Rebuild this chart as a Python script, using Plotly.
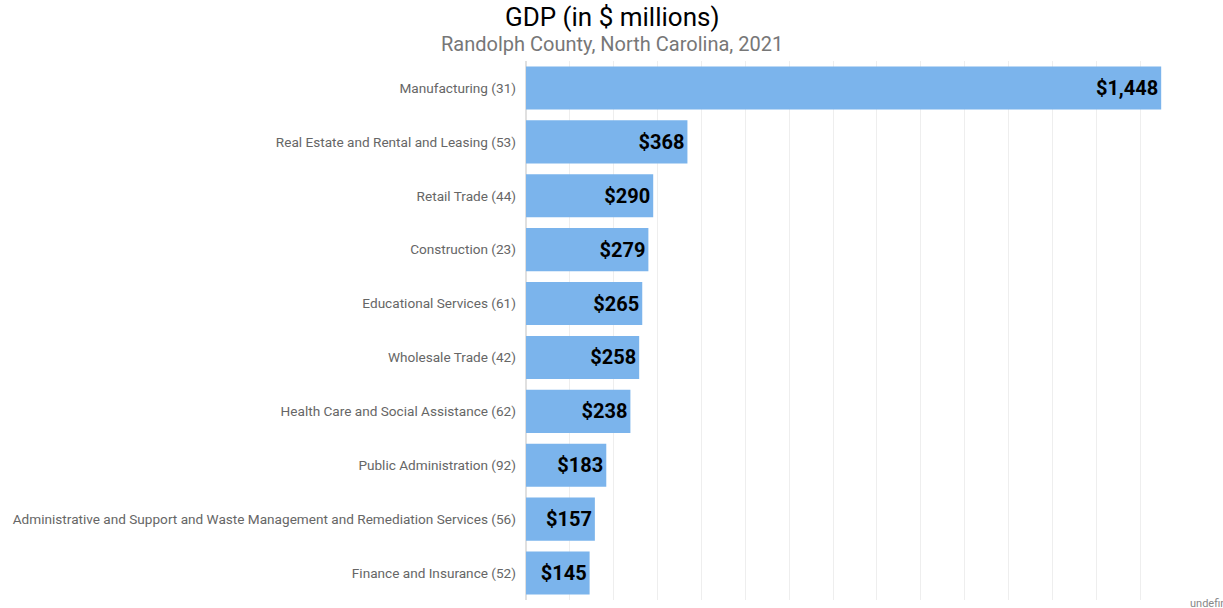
import plotly.graph_objects as go

categories = [
    "Manufacturing (31)",
    "Real Estate and Rental and Leasing (53)",
    "Retail Trade (44)",
    "Construction (23)",
    "Educational Services (61)",
    "Wholesale Trade (42)",
    "Health Care and Social Assistance (62)",
    "Public Administration (92)",
    "Administrative and Support and Waste Management and Remediation Services (56)",
    "Finance and Insurance (52)",
]
values = [1448, 368, 290, 279, 265, 258, 238, 183, 157, 145]
labels = ["$" + f"{v:,}" for v in values]

W, H = 1223, 608
L, R, T, B = 526, 39, 61, 8

fig = go.Figure(go.Bar(
    y=categories, x=values, orientation="h",
    marker=dict(color="#7bb4ec", line=dict(width=0)),
    text=labels, textposition="inside", insidetextanchor="end",
    textfont=dict(family="Roboto", size=20, color="black", weight="bold"),
    cliponaxis=False,
))

cx = (W / 2 - L) / (W - L - R)
fig.update_layout(
    width=W, height=H,
    margin=dict(l=L, r=R, t=T, b=B),
    paper_bgcolor="white", plot_bgcolor="white",
    bargap=0.2,
    showlegend=False,
    font=dict(family="Roboto"),
    xaxis=dict(range=[0, 1500], dtick=100, showticklabels=False,
               showgrid=True, gridcolor="#eeeeee", gridwidth=1,
               zeroline=True, zerolinecolor="#e0e0e0", fixedrange=True),
    yaxis=dict(autorange="reversed", tickfont=dict(family="Roboto", size=13.6, color="#666666"),
               ticks="", ticklen=0, showgrid=False, ticklabelstandoff=9),
    annotations=[
        dict(text="GDP (in $ millions)", xref="paper", yref="paper", x=cx, y=1,
             xanchor="center", yanchor="bottom", yshift=27, showarrow=False,
             font=dict(family="Roboto", size=26, color="black")),
        dict(text="Randolph County, North Carolina, 2021", xref="paper", yref="paper", x=cx, y=1,
             xanchor="center", yanchor="bottom", yshift=3, showarrow=False,
             font=dict(family="Roboto", size=20, color="#777777")),
        dict(text="undefined", xref="paper", yref="paper", x=1.0, y=0,
             xanchor="left", yanchor="middle", xshift=4, yshift=-3, showarrow=False,
             font=dict(family="Roboto", size=11, color="#888888")),
    ],
)

fig.write_html("out.html", config={"displayModeBar": False},
               post_script="document.body.style.margin='0';document.body.style.overflow='hidden';")
